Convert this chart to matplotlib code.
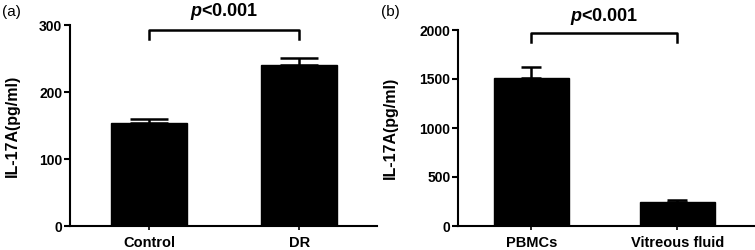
import matplotlib
matplotlib.use('Agg')
import matplotlib.pyplot as plt

plt.rcParams['font.family'] = ['Liberation Sans', 'DejaVu Sans']
plt.rcParams['mathtext.fontset'] = 'custom'
plt.rcParams['mathtext.bfit'] = 'Liberation Sans:italic:bold'

# panel (a)
groups_a = ['Control', 'DR']
means_a = [154, 240]
errs_a = [6, 11]
ticks_a = [0, 100, 200, 300]

# panel (b)
groups_b = ['PBMCs', 'Vitreous fluid']
means_b = [1515, 250]
errs_b = [105, 12]
ticks_b = [0, 500, 1000, 1500, 2000]

p_text = r'$\mathbfit{p}$<0.001'


def draw_panel(ax, groups, means, errs, ticks, width, xlim, bracket, capsize, label_x):
    x = list(range(len(groups)))
    ax.bar(x, means, width=width, color='black', edgecolor='black', zorder=2)
    ax.errorbar(x, means, yerr=[[0] * len(errs), errs], fmt='none',
                ecolor='black', elinewidth=1.8, capsize=capsize, capthick=1.8, zorder=1)
    ax.set_xlim(*xlim)
    ax.set_ylim(ticks[0], ticks[-1])
    ax.set_yticks(ticks)
    ax.set_xticks(x)
    ax.set_xticklabels(groups, fontweight='bold', fontsize=10.5)
    for lab in ax.get_yticklabels():
        lab.set_fontweight('bold')
        lab.set_fontsize(10)
    ax.set_ylabel('IL-17A(pg/ml)', fontweight='bold', fontsize=11.5)
    ax.yaxis.set_label_coords(label_x, 0.5)
    for s in ['top', 'right']:
        ax.spines[s].set_visible(False)
    for s in ['left', 'bottom']:
        ax.spines[s].set_linewidth(1.5)
    ax.tick_params(axis='y', direction='out', width=1.5, length=4, pad=1.5)
    ax.tick_params(axis='x', direction='out', width=1.2, length=3, pad=4)
    lo, hi = bracket
    ax.plot([0, 0, 1, 1], [lo, hi, hi, lo], color='black', lw=1.8, clip_on=False)


fig = plt.figure(figsize=(7.55, 2.5), dpi=100)

ax1 = fig.add_axes([70 / 755, 24 / 250, 307 / 755, 200.7 / 250])
draw_panel(ax1, groups_a, means_a, errs_a, ticks_a, 0.505, (-0.525, 1.515), (280, 293), 14, -0.163)
ax1.text(0.5, 320, p_text, ha='center', va='center', fontsize=13, fontweight='bold',
         clip_on=False)
fig.text(2 / 755, 1 - 12 / 250, '(a)', ha='left', va='center', fontsize=11)

ax2 = fig.add_axes([458 / 755, 24 / 250, 296 / 755, 196 / 250])
draw_panel(ax2, groups_b, means_b, errs_b, ticks_b, 0.514, (-0.503, 1.524), (1875, 1972), 7, -0.203)
ax2.text(0.5, 2135, p_text, ha='center', va='center', fontsize=13, fontweight='bold',
         clip_on=False)
fig.text(381 / 755, 1 - 12 / 250, '(b)', ha='left', va='center', fontsize=11)

fig.savefig('out.png', dpi=100)
